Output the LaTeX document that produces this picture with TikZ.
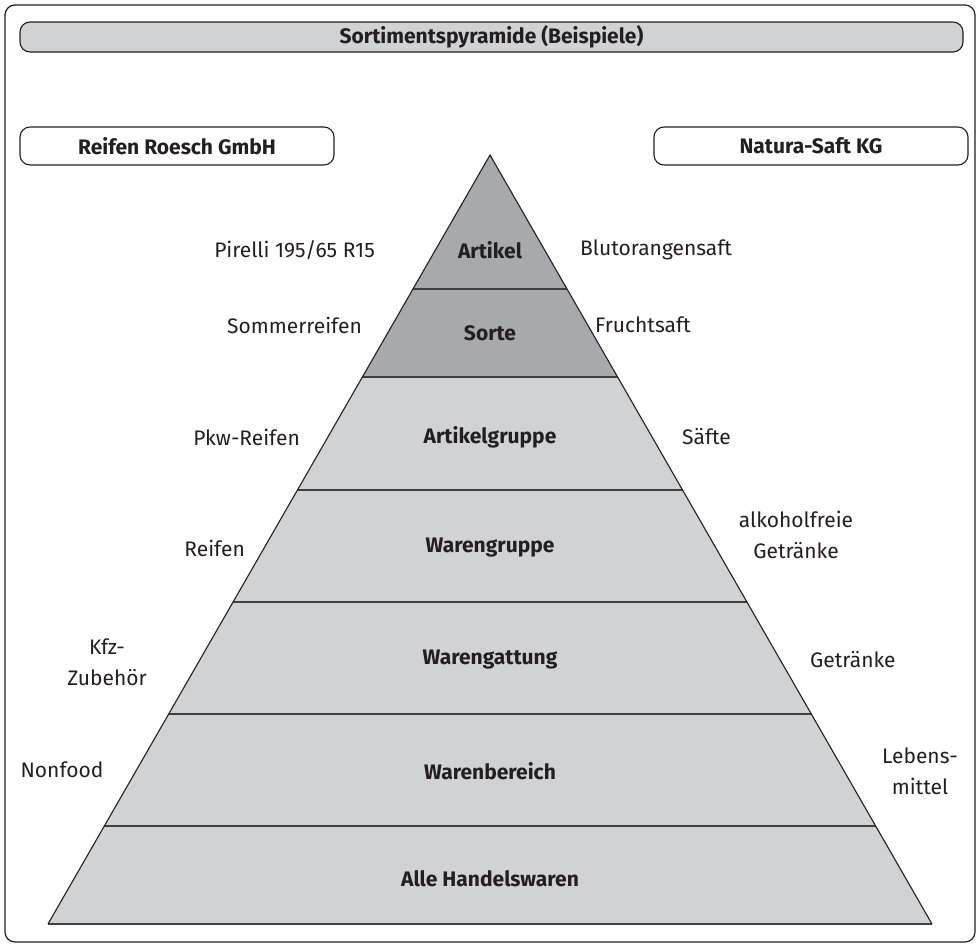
\documentclass[tikz,border=0pt]{standalone}
\usepackage{fontspec}
\setmainfont{Fira Sans}
\usetikzlibrary{calc}
\definecolor{frameC}{HTML}{231F20}
\definecolor{lightG}{HTML}{D1D2D4}
\definecolor{darkG}{HTML}{A7A9AC}
\definecolor{lineG}{HTML}{404041}
\tikzset{
  lbl/.style={font=\fontsize{21}{31}\selectfont, text=frameC, inner sep=0pt},
  blbl/.style={lbl, font=\fontsize{21}{31}\selectfont\bfseries},
  pbox/.style={draw=frameC, line width=1.1pt, rounded corners=10pt},
  band/.style={draw=frameC, line width=1.1pt},
  sep/.style={draw=lineG, line width=1.6pt}
}
\begin{document}
\begin{tikzpicture}[x=1pt,y=-1pt]
\useasboundingbox (0,0) rectangle (980,945);
% outer frame
\draw[pbox, line width=1.2pt] (5,5) rectangle (975,942);
% top bar
\draw[pbox, fill=lightG] (20,22) rectangle (963,52);
\node[blbl] (title) at (491.5,37) {Sortimentspyramide (Beispiele)};
% company boxes
\draw[pbox] (20,127) rectangle (334,165);
\node[blbl] (left) at (177,146) {Reifen Roesch GmbH};
\draw[pbox] (654,127) rectangle (968,165);
\node[blbl] (right) at (811,146) {Natura-Saft KG};
% pyramid geometry
\coordinate (A) at (490,155);
\coordinate (BL) at (48,924);
\coordinate (BR) at (932,924);
\foreach \n/\t in {1/0.17425,2/0.28869,3/0.43563,4/0.58127,5/0.72692,6/0.87256}{
  \coordinate (L\n) at ($(A)!\t!(BL)$);
  \coordinate (R\n) at ($(A)!\t!(BR)$);
}
% bands
\fill[darkG] (A) -- (L2) -- (R2) -- cycle;
\fill[lightG] (L2) -- (BL) -- (BR) -- (R2) -- cycle;
\foreach \n in {1,...,6}{ \draw[sep] (L\n) -- (R\n); }
\draw[sep] (BL) -- (BR);
\draw[band, line join=miter] (BL) -- (A) -- (BR);
% band labels
\node[blbl] (b1) at (490,250) {Artikel};
\node[blbl] (b2) at (490,333) {Sorte};
\node[blbl] (b3) at (490,437) {Artikelgruppe};
\node[blbl] (b4) at (490,548) {Warengruppe};
\node[blbl] (b5) at (490,660) {Warengattung};
\node[blbl] (b6) at (490,771) {Warenbereich};
\node[blbl] (b7) at (490,879) {Alle Handelswaren};
% left examples
\node[lbl, anchor=east] (l1) at (375,250) {Pirelli 195/65 R15};
\node[lbl, anchor=east] (l2) at (362,325) {Sommerreifen};
\node[lbl, anchor=east] (l3) at (300,437) {Pkw-Reifen};
\node[lbl, anchor=east] (l4) at (245,548) {Reifen};
\node[lbl, align=center] (l5) at (107,662) {Kfz-\\Zubehör};
\node[lbl] (l6) at (62,770) {Nonfood};
% right examples
\node[lbl, anchor=west] (r1) at (580,250) {Blutorangensaft};
\node[lbl, anchor=west] (r2) at (595,325) {Fruchtsaft};
\node[lbl, anchor=west] (r3) at (682,437) {Säfte};
\node[lbl, align=center] (r4) at (796,535) {alkoholfreie\\Getränke};
\node[lbl, anchor=west] (r5) at (810,660) {Getränke};
\node[lbl, align=center] (r6) at (920,771) {Lebens-\\mittel};
\end{tikzpicture}
\end{document}
